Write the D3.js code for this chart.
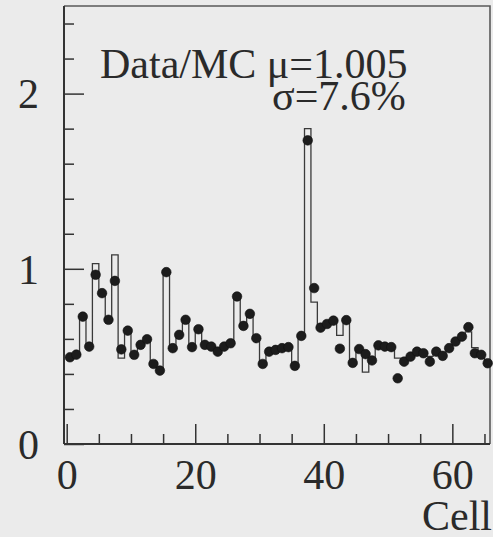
<!DOCTYPE html>
<html>
<head>
<meta charset="utf-8">
<script src="https://cdn.jsdelivr.net/npm/d3@7"></script>
<style>
  body { margin: 0; background: #ebebeb; }
  svg { display: block; }
</style>
</head>
<body>
<svg id="chart"></svg>
<script>
const width = 493;
const height = 537;
const serif = "'Liberation Serif', serif";

// cell numbers, data/MC ratio (points) and MC histogram (steps)
const cells = d3.range(0, 66);
const dataVals = [
  0.495, 0.51, 0.727, 0.556, 0.966, 0.861, 0.709, 0.931, 0.54, 0.647,
  0.509, 0.566, 0.598, 0.457, 0.419, 0.981, 0.547, 0.623, 0.709, 0.553,
  0.655, 0.566, 0.556, 0.527, 0.556, 0.575, 0.842, 0.674, 0.743, 0.604,
  0.457, 0.527, 0.537, 0.547, 0.553, 0.446, 0.617, 1.733, 0.89, 0.664,
  0.685, 0.704, 0.544, 0.707, 0.463, 0.542, 0.513, 0.477, 0.563, 0.556,
  0.553, 0.375, 0.47, 0.499, 0.527, 0.518, 0.47, 0.527, 0.503, 0.547,
  0.585, 0.613, 0.667, 0.518, 0.509, 0.461
];
const mcVals = [
  0.50, 0.51, 0.72, 0.56, 1.03, 0.86, 0.71, 1.08, 0.49, 0.64,
  0.51, 0.56, 0.60, 0.46, 0.42, 0.98, 0.55, 0.62, 0.71, 0.55,
  0.65, 0.57, 0.55, 0.53, 0.56, 0.58, 0.84, 0.67, 0.74, 0.60,
  0.46, 0.53, 0.54, 0.55, 0.55, 0.46, 0.61, 1.80, 0.81, 0.68,
  0.68, 0.70, 0.62, 0.70, 0.47, 0.53, 0.41, 0.49, 0.56, 0.55,
  0.55, 0.49, 0.48, 0.50, 0.52, 0.52, 0.50, 0.52, 0.51, 0.55,
  0.58, 0.61, 0.64, 0.55, 0.51, 0.48
];
const xMajor = [0, 20, 40, 60];
const xMinor = [5, 10, 15, 25, 30, 35, 45, 50, 55, 65];
const yMajor = [0, 1, 2];
const yMinor = [0.2, 0.4, 0.6, 0.8, 1.2, 1.4, 1.6, 1.8, 2.2, 2.4];

const frame = { left: 64, right: 490, top: 6, bottom: 444 };

const x = d3.scaleLinear().domain([-0.42, 65.86]).range([frame.left, frame.right]);
const y = d3.scaleLinear().domain([0, 2.5]).range([frame.bottom, frame.top]);

const svg = d3.select("#chart")
    .attr("width", width)
    .attr("height", height);

// frame (top + right are lighter)
svg.append("path")
    .attr("d", `M${frame.left},${frame.top}H${frame.right}V${frame.bottom}`)
    .attr("fill", "none")
    .attr("stroke", "#5a5a5a")
    .attr("stroke-width", 1.6);

// MC histogram as step line
const stepPts = [];
cells.forEach((c, i) => {
    stepPts.push([c, mcVals[i]]);
    stepPts.push([c + 1, mcVals[i]]);
});
const line = d3.line()
    .x(d => x(d[0]))
    .y(d => y(d[1]));

svg.append("path")
    .datum(stepPts)
    .attr("d", line)
    .attr("fill", "none")
    .attr("stroke", "#3a3a3a")
    .attr("stroke-width", 1.3);

// data points
svg.append("g")
    .selectAll("circle")
    .data(cells)
    .enter().append("circle")
    .attr("cx", d => x(d + 0.5))
    .attr("cy", (d, i) => y(dataVals[i]))
    .attr("r", 4.8)
    .attr("fill", "#1c1c1c")
    .attr("stroke", "#111")
    .attr("stroke-width", 0.6);

// axes, ROOT style ticks pointing inward
const axisStyle = g => {
    g.select(".domain").remove();
    g.attr("font-family", serif);
    g.selectAll(".tick line").attr("stroke", "#333").attr("stroke-width", 1.5);
    g.selectAll(".tick text").attr("font-size", 42).attr("font-family", serif).attr("fill", "#2a2a2a");
};

svg.append("g")
    .attr("transform", `translate(0,${frame.bottom})`)
    .call(d3.axisBottom(x).tickValues(xMajor).tickSize(-20).tickFormat(d3.format("d")))
    .call(axisStyle)
    .call(g => g.selectAll(".tick text").attr("dy", "0.71em").attr("y", 15));

svg.append("g")
    .attr("transform", `translate(0,${frame.bottom})`)
    .call(d3.axisBottom(x).tickValues(xMinor).tickSize(-10).tickFormat(""))
    .call(axisStyle);

svg.append("g")
    .attr("transform", `translate(${frame.left},0)`)
    .call(d3.axisLeft(y).tickValues(yMajor).tickSize(-20).tickFormat(d3.format("d")))
    .call(axisStyle)
    .call(g => g.selectAll(".tick text").attr("x", -25).attr("dy", "0.34em"));

svg.append("g")
    .attr("transform", `translate(${frame.left},0)`)
    .call(d3.axisLeft(y).tickValues(yMinor).tickSize(-10).tickFormat(""))
    .call(axisStyle);

// axis lines
svg.append("line")
    .attr("x1", frame.left).attr("x2", frame.right)
    .attr("y1", frame.bottom).attr("y2", frame.bottom)
    .attr("stroke", "#333").attr("stroke-width", 2);
svg.append("line")
    .attr("x1", frame.left).attr("x2", frame.left)
    .attr("y1", frame.top).attr("y2", frame.bottom)
    .attr("stroke", "#333").attr("stroke-width", 2);

// labels
const label = (tx, ty, s, anchor) => svg.append("text")
    .attr("x", tx).attr("y", ty)
    .attr("text-anchor", anchor || "start")
    .attr("font-family", serif)
    .attr("font-size", 42)
    .attr("fill", "#2a2a2a")
    .text(s);

label(492, 530, "Cell", "end");
label(100, 78, "Data/MC \u03bc=1.005");
label(272, 110, "\u03c3=7.6%");
</script>
</body>
</html>
